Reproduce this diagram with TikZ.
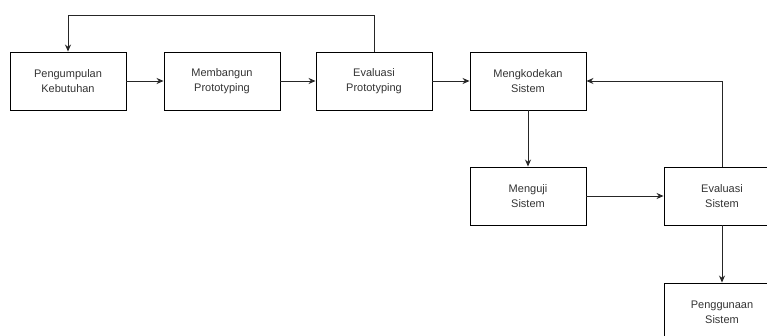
\documentclass[tikz,border=0pt]{standalone}
\usepackage{fontspec}
\setmainfont{Liberation Sans}
\usetikzlibrary{arrows.meta}
\begin{document}
\begin{tikzpicture}[x=1pt,y=-1pt,
  stepbox/.style={draw=black, line width=0.9pt, minimum width=116pt, minimum height=58pt, inner sep=0pt,
    align=center, text=black!80, font=\fontsize{11}{15}\selectfont},
  conn/.style={draw=black!85, line width=0.9pt, -{Stealth[length=7pt,width=6pt]}}]
\useasboundingbox (0,0) rectangle (767,336);
\clip (0,0) rectangle (767,336);
\node[stepbox] (b1) at (68,81) {Pengumpulan\\Kebutuhan};
\node[stepbox] (b2) at (222,81) {Membangun\\Prototyping};
\node[stepbox] (b3) at (374,81) {Evaluasi\\Prototyping};
\node[stepbox] (b4) at (528,81) {Mengkodekan\\Sistem};
\node[stepbox] (b5) at (528,196) {Menguji\\Sistem};
\node[stepbox] (b6) at (722,196) {Evaluasi\\Sistem};
\node[stepbox, minimum height=58pt] (b7) at (722,312) {Penggunaan\\Sistem};
\coordinate (top) at (374,15);
\draw[conn] (b1) -- (b2);
\draw[conn] (b2) -- (b3);
\draw[conn] (b3) -- (b4);
\draw[conn] (b3.north) -- (top) -| (b1.north);
\draw[conn] (b4) -- (b5);
\draw[conn] (b5) -- (b6);
\draw[conn] (b6.north) |- (b4.east);
\draw[conn] (b6) -- (b7);
\end{tikzpicture}
\end{document}
